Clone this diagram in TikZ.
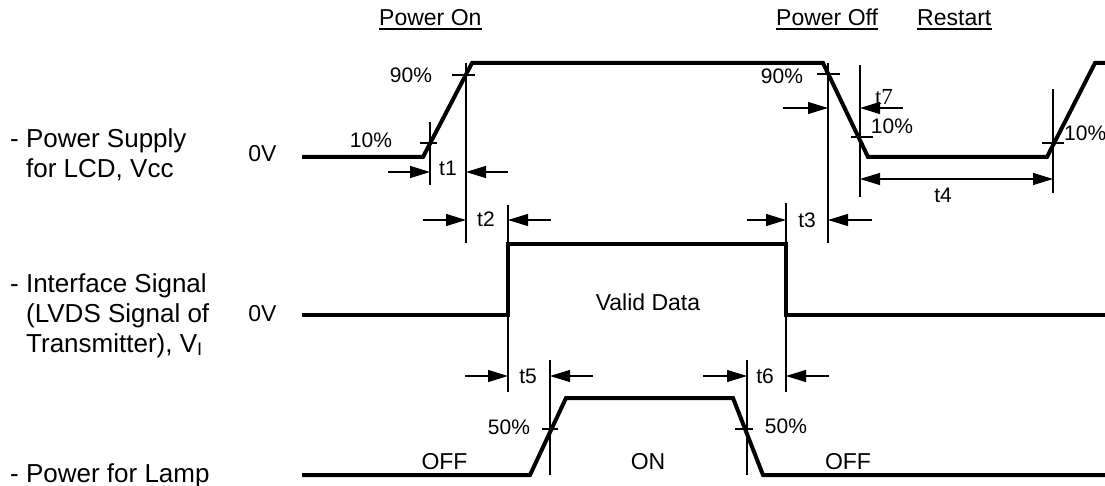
\documentclass[tikz,border=0pt]{standalone}
\usepackage{fontspec}
\setmainfont{Liberation Sans}
\newfontfamily\tserif{Liberation Serif}
\usetikzlibrary{arrows.meta}
\begin{document}
\begin{tikzpicture}[x=1pt,y=-1pt,
  wave/.style={line width=4pt},
  thinln/.style={line width=1.2pt},
  dimarrow/.style={line width=1.2pt,-{Triangle[length=20pt,width=12pt]}},
  dimboth/.style={line width=1.2pt,{Triangle[length=20pt,width=12pt]}-{Triangle[length=20pt,width=12pt]}},
  lbl/.style={inner sep=0pt,anchor=base,font=\fontsize{23}{27}\selectfont},
  pct/.style={inner sep=0pt,anchor=base,font=\fontsize{21}{25}\selectfont},
  side/.style={inner sep=0pt,anchor=base west,font=\fontsize{26}{30}\selectfont},
  head/.style={inner sep=0pt,anchor=base west,font=\fontsize{23}{27}\selectfont},
  uline/.style={line width=2pt}]
\useasboundingbox (0,0) rectangle (1105,486);

% ---------- headings ----------
\node[head] (pon) at (379,26) {Power On};
\node[head] (poff) at (776,26) {Power Off};
\node[head] (rst) at (917,26) {Restart};
\foreach \n in {pon,poff,rst}
  \draw[uline] ([yshift=-3.5pt]\n.base west) -- ([yshift=-3.5pt]\n.base east);

% ---------- side labels ----------
\node[side] (s1a) at (10,148) {- Power Supply};
\node[side] (s1b) at (26,178) {for LCD, Vcc};
\node[side] (s2a) at (10,292) {- Interface Signal};
\node[side] (s2b) at (26,322) {(LVDS Signal of};
\node[side] (s2c) at (26,352) {Transmitter), V\textsubscript{I}};
\node[side] (s3a) at (10,482) {- Power for Lamp};

\node[lbl] (z1) at (262.5,162) {0V};
\node[lbl] (z2) at (262.5,321) {0V};

% ---------- Vcc waveform ----------
\coordinate (a0) at (302,157);
\coordinate (a1) at (423,157);
\coordinate (a2) at (472,63);
\coordinate (a3) at (823,63);
\coordinate (a4) at (868,157);
\coordinate (a5) at (1047,157);
\coordinate (a6) at (1095,63);
\coordinate (a7) at (1105,63);
\draw[wave] (a0) -- (a1) -- (a2) -- (a3) -- (a4) -- (a5) -- (a6) -- (a7);

% ---------- Interface waveform ----------
\coordinate (b0) at (302,315);
\coordinate (b1) at (508,315);
\coordinate (b2) at (508,244);
\coordinate (b3) at (786,244);
\coordinate (b4) at (786,315);
\coordinate (b5) at (1105,315);
\draw[wave] (b0) -- (b1) -- (b2) -- (b3) -- (b4) -- (b5);

% ---------- Lamp waveform ----------
\coordinate (c0) at (302,475);
\coordinate (c1) at (530,475);
\coordinate (c2) at (566,398);
\coordinate (c3) at (733,398);
\coordinate (c4) at (763,475);
\coordinate (c5) at (1105,475);
\draw[wave] (c0) -- (c1) -- (c2) -- (c3) -- (c4) -- (c5);

% ---------- thin vertical reference lines ----------
\coordinate (v1t) at (430,122);  \coordinate (v1b) at (430,185);
\coordinate (v2t) at (466,63);   \coordinate (v2b) at (466,243);
\coordinate (v3t) at (508,205);  \coordinate (v3b) at (508,392);
\coordinate (v4t) at (786,203);  \coordinate (v4b) at (786,392);
\coordinate (v5t) at (828,63);   \coordinate (v5b) at (828,243);
\coordinate (v6t) at (860,65);   \coordinate (v6b) at (860,197);
\coordinate (v7t) at (1053,89);  \coordinate (v7b) at (1053,193);
\coordinate (v8t) at (550,360);  \coordinate (v8b) at (550,475);
\coordinate (v9t) at (747,360);  \coordinate (v9b) at (747,475);
\foreach \v in {v1,v2,v3,v4,v5,v6,v7,v8,v9}
  \draw[thinln] (\v t) -- (\v b);

% ---------- level ticks ----------
\coordinate (k1l) at (420,143);  \coordinate (k1r) at (437,143);
\coordinate (k2l) at (452,75);   \coordinate (k2r) at (475,75);
\coordinate (k3l) at (817,74);   \coordinate (k3r) at (840,74);
\coordinate (k4l) at (851,137);  \coordinate (k4r) at (873,137);
\coordinate (k5l) at (1042,143); \coordinate (k5r) at (1064,143);
\coordinate (k6l) at (542,429);  \coordinate (k6r) at (558,429);
\coordinate (k7l) at (735,429);  \coordinate (k7r) at (753,429);
\foreach \k in {k1,k2,k3,k4,k5,k6,k7}
  \draw[thinln] (\k l) -- (\k r);

% ---------- timing arrows ----------
% t1
\coordinate (t1a) at (388,172); \coordinate (t1b) at (430,172);
\coordinate (t1c) at (508,172); \coordinate (t1d) at (466,172);
\draw[dimarrow] (t1a) -- (t1b);
\draw[dimarrow] (t1c) -- (t1d);
% t2
\coordinate (t2a) at (423,220); \coordinate (t2b) at (466,220);
\coordinate (t2c) at (551,220); \coordinate (t2d) at (508,220);
\draw[dimarrow] (t2a) -- (t2b);
\draw[dimarrow] (t2c) -- (t2d);
% t3
\coordinate (t3a) at (747,220); \coordinate (t3b) at (786,220);
\coordinate (t3c) at (872,220); \coordinate (t3d) at (828,220);
\draw[dimarrow] (t3a) -- (t3b);
\draw[dimarrow] (t3c) -- (t3d);
% t7
\coordinate (t7a) at (783,108); \coordinate (t7b) at (828,108);
\coordinate (t7c) at (903,108); \coordinate (t7d) at (860,108);
\draw[dimarrow] (t7a) -- (t7b);
\draw[dimarrow] (t7c) -- (t7d);
% t4
\coordinate (t4a) at (860,179); \coordinate (t4b) at (1053,179);
\draw[dimboth] (t4a) -- (t4b);
% t5
\coordinate (t5a) at (465,376); \coordinate (t5b) at (508,376);
\coordinate (t5c) at (593,376); \coordinate (t5d) at (550,376);
\draw[dimarrow] (t5a) -- (t5b);
\draw[dimarrow] (t5c) -- (t5d);
% t6
\coordinate (t6a) at (703,376); \coordinate (t6b) at (747,376);
\coordinate (t6c) at (829,376); \coordinate (t6d) at (786,376);
\draw[dimarrow] (t6a) -- (t6b);
\draw[dimarrow] (t6c) -- (t6d);

% ---------- labels ----------
\node[pct] (p1) at (371,148) {10\%};
\node[pct] (p2) at (411,83) {90\%};
\node[pct] (p3) at (782,84) {90\%};
\node[pct] (p4) at (892,134) {10\%};
\node[pct,anchor=base west] (p5) at (1064,141) {10\%};
\node[pct] (p6) at (509,434) {50\%};
\node[pct] (p7) at (786,433) {50\%};

\node[pct] (l1) at (448,176) {t1};
\node[pct] (l2) at (486,227) {t2};
\node[pct] (l3) at (807,228) {t3};
\node[pct] (l4) at (943,203) {t4};
\node[pct] (l5) at (528,383) {t5};
\node[pct] (l6) at (765,383) {t6};
\node[lbl,font=\tserif\fontsize{23}{27}\selectfont] (l7) at (884,105) {t7};

\node[lbl] (vd) at (648,310) {Valid Data};
\node[lbl] (off1) at (444.5,469) {OFF};
\node[lbl] (on) at (648,469) {ON};
\node[lbl] (off2) at (848,469) {OFF};
\end{tikzpicture}
\end{document}
